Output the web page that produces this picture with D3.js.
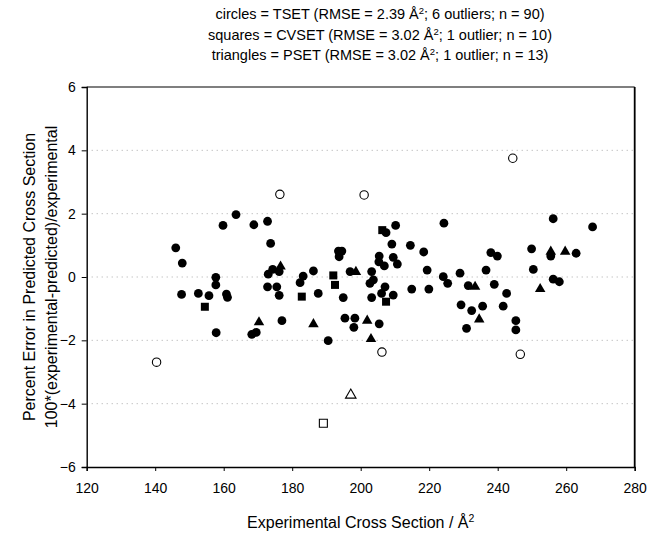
<!DOCTYPE html>
<html><head><meta charset="utf-8">
<script src="https://cdn.jsdelivr.net/npm/d3@7"></script>
<style>body{margin:0;background:#fff}svg{display:block}text{font-family:"Liberation Sans",Arial,sans-serif;fill:#000}</style>
</head><body><div id="chart"></div>
<script>
// TSET filled circles
const tsetX = [163.6,159.8,168.8,172.8,146.0,173.7,147.9,173.0,174.3,176.2,157.7,157.7,172.8,175.5,176.2,147.7,152.6,155.7,160.8,161.1,177.0,157.8,168.2,169.5,224.3,210.2,207.4,209.1,214.5,218.4,193.5,194.5,193.7,205.4,205.3,206.9,209.5,210.7,219.4,186.2,183.2,182.3,196.9,203.2,203.7,202.7,207.1,206.1,209.5,214.9,219.9,224.1,225.4,229.0,187.6,194.9,203.2,229.3,195.4,198.3,198.0,205.4,190.5,256.2,267.7,249.9,255.5,262.9,238.0,239.9,236.6,250.4,231.4,239.0,242.6,256.2,258.0,232.4,235.6,241.6,230.9,245.3,245.3];
const tsetY = [1.97,1.63,1.65,1.76,0.92,1.06,0.44,0.09,0.24,0.17,-0.01,-0.25,-0.31,-0.31,-0.58,-0.55,-0.52,-0.59,-0.54,-0.64,-1.38,-1.76,-1.81,-1.75,1.70,1.63,1.40,1.04,1.00,0.79,0.82,0.82,0.64,0.66,0.48,0.35,0.62,0.41,0.22,0.19,0.03,-0.18,0.17,0.17,-0.09,-0.20,-0.31,-0.52,-0.57,-0.38,-0.38,0.01,-0.20,0.12,-0.52,-0.65,-0.65,-0.88,-1.30,-1.30,-1.59,-1.48,-2.01,1.84,1.58,0.89,0.66,0.75,0.77,0.66,0.22,0.24,-0.27,-0.23,-0.52,-0.07,-0.15,-1.06,-0.92,-0.92,-1.62,-1.38,-1.67];
// TSET outliers (open circles)
const tsetOutX = [140.4,176.4,201.0,244.4,206.2,246.6];
const tsetOutY = [-2.69,2.61,2.59,3.75,-2.37,-2.44];
// CVSET filled squares
const cvsetX = [154.5,206.3,192.0,192.5,182.8,207.4];
const cvsetY = [-0.94,1.48,0.05,-0.25,-0.62,-0.78];
const cvsetOutX = [189.1];
const cvsetOutY = [-4.62];
// PSET filled triangles
const psetX = [176.6,170.3,198.6,186.2,201.9,203.0,255.5,259.7,233.4,252.4,234.6];
const psetY = [0.33,-1.43,0.16,-1.49,-1.38,-1.96,0.80,0.80,-0.31,-0.38,-1.34];
const psetOutX = [197.1];
const psetOutY = [-3.73];

const xTicks = [120,140,160,180,200,220,240,260,280];
const yTicks = [-6,-4,-2,0,2,4,6];
// title lines: [before Å, after superscript]
const titleLines = [["circles = TSET (RMSE = 2.39 Å", "; 6 outliers; n = 90)"],
  ["squares = CVSET (RMSE = 3.02 Å", "; 1 outlier; n = 10)"],
  ["triangles = PSET (RMSE = 3.02 Å", "; 1 outlier; n = 13)"]];

const W = 647, H = 533;
const L = 86.7, R = 634.7, T = 87, B = 467;
const svg = d3.select("#chart").append("svg").attr("width", W).attr("height", H);
const x = d3.scaleLinear().domain([120,280]).range([L,R]);
const y = d3.scaleLinear().domain([-6,6]).range([B,T]);

// gridlines
svg.append("g").selectAll("line").data(yTicks.filter(d => d > -6 && d < 6)).join("line")
  .attr("x1", L).attr("x2", R).attr("y1", d => y(d)).attr("y2", d => y(d))
  .attr("stroke", "#aaa").attr("stroke-width", 1).attr("stroke-dasharray", "1,4");

// frame
svg.append("line").attr("x1", L).attr("x2", R).attr("y1", T).attr("y2", T).attr("stroke", "#000").attr("stroke-width", 1.2);
svg.append("line").attr("x1", R).attr("x2", R).attr("y1", T).attr("y2", B).attr("stroke", "#000").attr("stroke-width", 1.8);

const gx = svg.append("g").attr("transform", `translate(0,${B})`)
  .call(d3.axisBottom(x).tickValues(xTicks).tickFormat(d3.format("d")).tickSize(4).tickPadding(12));
const gy = svg.append("g").attr("transform", `translate(${L},0)`)
  .call(d3.axisLeft(y).tickValues(yTicks).tickFormat(d3.format("d")).tickSize(5).tickPadding(6));
[gx, gy].forEach(g => {
  g.select(".domain").attr("stroke", "#000").attr("stroke-width", 1.4);
  g.selectAll(".tick line").attr("stroke", "#000");
  g.selectAll(".tick text").attr("font-size", 14).attr("font-family", "Liberation Sans, Arial, sans-serif").attr("fill", "#000");
});

// points
const pts = svg.append("g");
const circ = (X, Y, filled) => pts.append("g").selectAll("circle").data(X.map((d,i) => [d, Y[i]])).join("circle")
  .attr("cx", d => x(d[0])).attr("cy", d => y(d[1])).attr("r", filled ? 4.4 : 4.2)
  .attr("fill", filled ? "#000" : "#fff").attr("stroke", "#000").attr("stroke-width", filled ? 0 : 1.1);
const sym = (X, Y, type, size, filled) => pts.append("g").selectAll("path").data(X.map((d,i) => [d, Y[i]])).join("path")
  .attr("transform", d => `translate(${x(d[0])},${y(d[1])})`)
  .attr("d", d3.symbol().type(type).size(size))
  .attr("fill", filled ? "#000" : "#fff").attr("stroke", "#000").attr("stroke-width", filled ? 0 : 1.1);

circ(tsetX, tsetY, true);
sym(cvsetX, cvsetY, d3.symbolSquare, 64, true);
sym(psetX, psetY, d3.symbolTriangle, 48, true);
circ(tsetOutX, tsetOutY, false);
sym(cvsetOutX, cvsetOutY, d3.symbolSquare, 64, false);
sym(psetOutX, psetOutY, d3.symbolTriangle, 48, false);

// title
const tcx = 380;
const tt = svg.append("g").selectAll("text").data(titleLines).join("text")
  .attr("x", tcx).attr("y", (d,i) => 19 + i*20.5).attr("text-anchor", "middle").attr("font-size", 14.5);
tt.append("tspan").text(d => d[0]);
tt.append("tspan").attr("font-size", 9.5).attr("dy", -5).text("2");
tt.append("tspan").attr("dy", 5).text(d => d[1]);

// axis titles
const cx = (L + R) / 2;
const xt = svg.append("text").attr("x", cx).attr("y", 528).attr("text-anchor", "middle").attr("font-size", 16);
xt.append("tspan").text("Experimental Cross Section / Å");
xt.append("tspan").attr("font-size", 10.5).attr("dy", -6).text("2");
const yc = (T + B) / 2;
svg.append("text").attr("transform", `translate(35,${yc}) rotate(-90)`).attr("text-anchor", "middle").attr("font-size", 16)
  .text("Percent Error in Predicted Cross Section");
svg.append("text").attr("transform", `translate(57,${yc}) rotate(-90)`).attr("text-anchor", "middle").attr("font-size", 16)
  .text("100*(experimental-predicted)/experimental");
</script></body></html>
